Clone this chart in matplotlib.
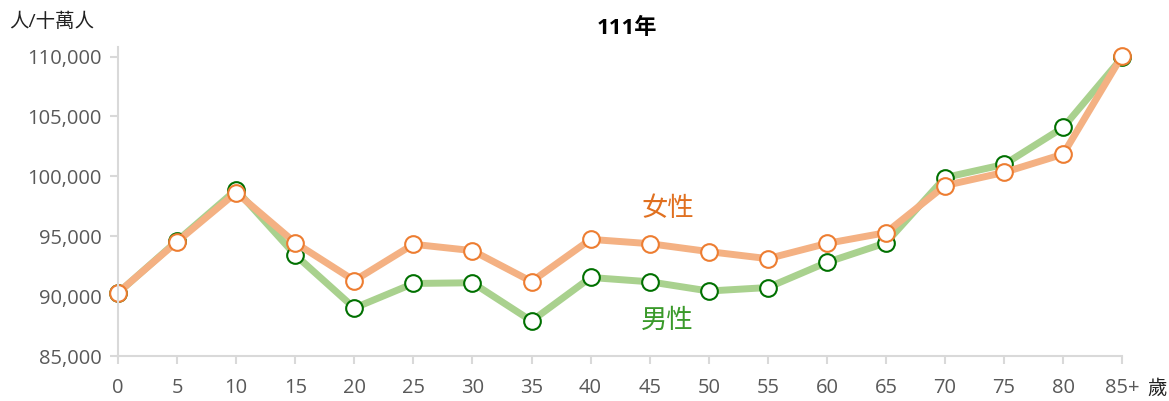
import matplotlib.pyplot as plt
import numpy as np

plt.rcParams['font.family'] = ['Open Sans', 'Noto Sans CJK TC', 'DejaVu Sans']

ages = ['0', '5', '10', '15', '20', '25', '30', '35', '40', '45', '50',
        '55', '60', '65', '70', '75', '80', '85+']
male = [90270, 94620, 98880, 93440, 89010, 91060, 91120, 87930, 91560,
        91200, 90430, 90720, 92820, 94450, 99900, 100990, 104080, 109920]
female = [90290, 94550, 98650, 94450, 91300, 94330, 93800, 91220, 94740,
          94380, 93720, 93130, 94400, 95300, 99230, 100330, 101850, 110080]

x = np.arange(len(ages))

fig = plt.figure(figsize=(11.69, 4.01), dpi=100)
ax = fig.add_axes([0.101, 0.112, 0.859, 0.771])

ax.plot(x, male, color='#A9D18E', linewidth=5, marker='o', markersize=12,
        markerfacecolor='white', markeredgecolor='#007000', markeredgewidth=1.5,
        clip_on=False)
ax.plot(x, female, color='#F4B183', linewidth=5, marker='o', markersize=12,
        markerfacecolor='white', markeredgecolor='#ED7D31', markeredgewidth=1.5,
        clip_on=False)

ax.set_xlim(0, len(ages) - 1)
ax.set_ylim(85000, 110800)
ax.set_xticks(x)
ax.set_xticklabels(ages)
ax.set_yticks(np.arange(85000, 110001, 5000))
ax.set_yticklabels(['{:,}'.format(v) for v in range(85000, 110001, 5000)])

for s in ['top', 'right']:
    ax.spines[s].set_visible(False)
for s in ['left', 'bottom']:
    ax.spines[s].set_color('#D9D9D9')
    ax.spines[s].set_linewidth(1.5)
ax.tick_params(axis='both', colors='#D9D9D9', labelcolor='#595959',
               labelsize=14.5, length=6, width=1.5)
ax.tick_params(axis='x', pad=10)
ax.tick_params(axis='y', pad=6)

ax.text(9.3, 97200, '女性', color='#E07020', fontsize=19, ha='center', va='center')
ax.text(9.3, 87900, '男性', color='#3A9A2A', fontsize=19, ha='center', va='center')

fig.text(0.536, 0.93, '111年', fontsize=16, fontweight='bold', ha='center', va='center')
fig.text(0.008, 0.945, '人/十萬人', fontsize=14, color='#222222', ha='left', va='center')
fig.text(0.99, 0.03, '歲', fontsize=14, color='#222222', ha='center', va='center')

fig.savefig('out.png', dpi=100)
